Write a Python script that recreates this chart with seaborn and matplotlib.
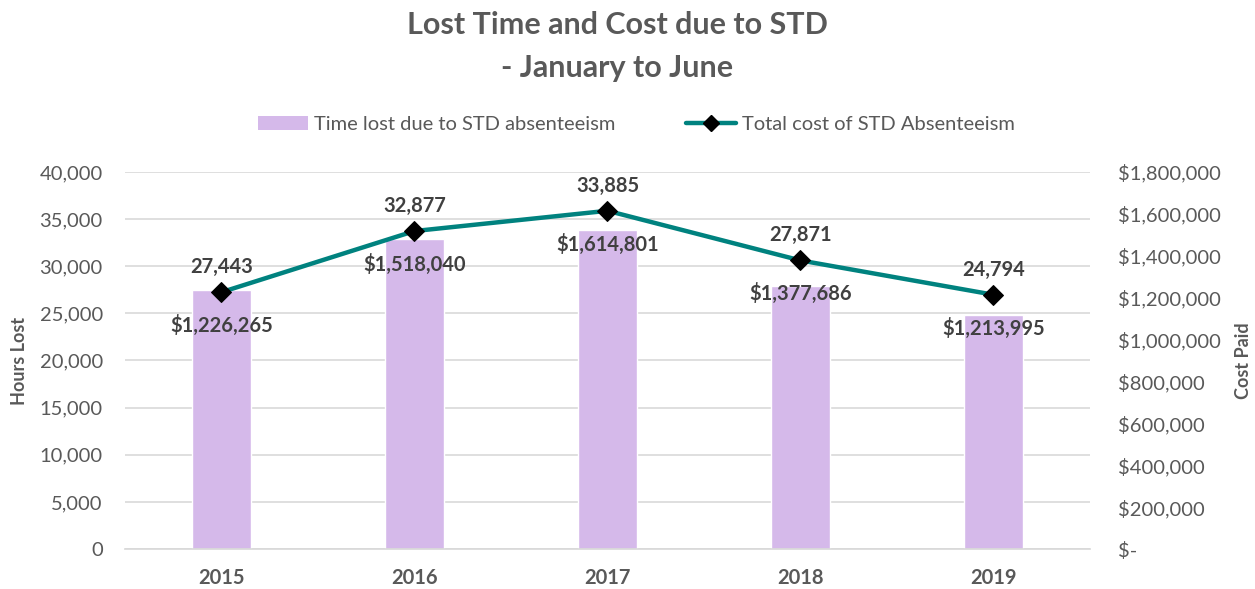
import seaborn as sns
import matplotlib.pyplot as plt
import matplotlib.ticker as mticker
from matplotlib.patches import Patch
from matplotlib.lines import Line2D
import pandas as pd

years = ["2015", "2016", "2017", "2018", "2019"]
hours_lost = [27443, 32877, 33885, 27871, 24794]
cost_paid = [1226265, 1518040, 1614801, 1377686, 1213995]

bar_color = "#D5B9EA"
line_color = "#00827F"
text_color = "#595959"
label_color = "#404040"

sns.set_theme(style="white")
plt.rcParams["font.family"] = ["Lato", "DejaVu Sans"]

df = pd.DataFrame({"Year": years, "Hours": hours_lost, "Cost": cost_paid})

fig = plt.figure(figsize=(12.55, 5.89), dpi=100)
ax = fig.add_axes([0.0996, 0.0679, 0.7689, 0.6401])

sns.barplot(data=df, x="Year", y="Hours", ax=ax, color=bar_color, width=0.31,
            saturation=1, zorder=2)
ax.set_xlim(-0.5, len(years) - 0.5)
ax.set_ylim(0, 40000)
ax.yaxis.set_major_locator(mticker.MultipleLocator(5000))
ax.yaxis.set_major_formatter(mticker.FuncFormatter(lambda v, p: f"{v:,.0f}"))
ax.grid(axis="y", color="#D9D9D9", linewidth=1.2, zorder=0)
ax.set_axisbelow(True)
for s in ["top", "left", "right"]:
    ax.spines[s].set_visible(False)
ax.spines["bottom"].set_color("#D9D9D9")
ax.tick_params(axis="both", length=0, colors=text_color, labelsize=14.5)
ax.tick_params(axis="y", pad=16)
ax.tick_params(axis="x", pad=14)
for t in ax.get_xticklabels():
    t.set_fontweight("bold")
ax.set_xlabel("")
ax.set_ylabel("Hours Lost", fontsize=13, fontweight="bold", color=text_color, labelpad=8)

ax2 = ax.twinx()
sns.lineplot(x=list(range(len(years))), y=cost_paid, ax=ax2, color=line_color,
             linewidth=3.2, marker="D", markersize=10, markerfacecolor="black",
             markeredgecolor="black", zorder=3)
ax2.set_ylim(0, 1800000)
ax2.yaxis.set_major_locator(mticker.MultipleLocator(200000))
ax2.yaxis.set_major_formatter(mticker.FuncFormatter(
    lambda v, p: "$-" if v == 0 else f"${v:,.0f}"))
for s in ["top", "left", "right", "bottom"]:
    ax2.spines[s].set_visible(False)
ax2.tick_params(axis="y", length=0, colors=text_color, labelsize=14.5, pad=20)
ax2.set_ylabel("Cost Paid", fontsize=13, fontweight="bold", color=text_color, labelpad=10)
ax2.grid(False)

# hours label sits above the marker, cost label below it
for i, (h, c) in enumerate(zip(hours_lost, cost_paid)):
    ax2.annotate(f"{h:,}", (i, c), xytext=(0, 18), textcoords="offset points",
                 ha="center", va="center", fontsize=14.5, fontweight="bold",
                 color=label_color, zorder=5)
    ax2.annotate(f"${c:,}", (i, c), xytext=(0, -24), textcoords="offset points",
                 ha="center", va="center", fontsize=14.5, fontweight="bold",
                 color=label_color, zorder=5)

fig.text(0.492, 0.957, "Lost Time and Cost due to STD", ha="center", va="center",
         fontsize=22, fontweight="bold", color=text_color)
fig.text(0.492, 0.885, "- January to June", ha="center", va="center",
         fontsize=22, fontweight="bold", color=text_color)

handles = [
    Patch(facecolor=bar_color, edgecolor="none"),
    Line2D([0], [0], color=line_color, linewidth=3.2, marker="D", markersize=8,
           markerfacecolor="black", markeredgecolor="black"),
]
fig.legend(handles, ["Time lost due to STD absenteeism", "Total cost of STD Absenteeism"],
           loc="center", bbox_to_anchor=(0.507, 0.788), ncol=2, frameon=False,
           fontsize=14.5, labelcolor=text_color, columnspacing=3.5, handlelength=2.5,
           handletextpad=0.3)

fig.savefig("out.png", dpi=100)
